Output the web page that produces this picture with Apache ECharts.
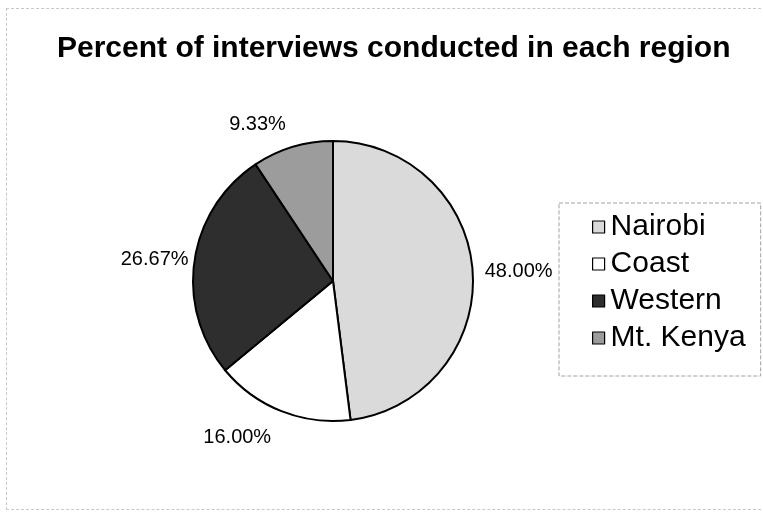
<!DOCTYPE html>
<html>
<head>
<meta charset="utf-8">
<script src="https://cdn.jsdelivr.net/npm/echarts@6/dist/echarts.min.js"></script>
<style>
html,body{margin:0;padding:0;background:#fff;}
#frame{position:absolute;left:6px;top:8px;width:760px;height:502px;border:1px dashed #c8c8c8;box-sizing:border-box;}
#chart{position:absolute;left:0;top:0;width:763px;height:516px;}
</style>
</head>
<body>
<div id="frame"></div>
<div id="chart"></div>
<script>
const titleText = 'Percent of interviews conducted in each region';
const regions = ['Nairobi', 'Coast', 'Western', 'Mt. Kenya'];
const percents = [48.00, 16.00, 26.67, 9.33];

const fills = ['#dadada', '#ffffff', '#2e2e2e', '#9c9c9c'];
const labelGaps = [12, 28, 6, 23];

const chart = echarts.init(document.getElementById('chart'), null, {renderer: 'canvas'});
const FONT = '"Liberation Sans", Arial, sans-serif';

const pieData = regions.map((name, i) => ({
  name: name,
  value: percents[i],
  itemStyle: {color: fills[i]},
  labelLine: {show: false, length: labelGaps[i], length2: 0}
}));

chart.setOption({
  animation: false,
  backgroundColor: 'transparent',
  title: {
    text: titleText,
    left: 52,
    top: 29,
    textStyle: {fontFamily: FONT, fontSize: 30, fontWeight: 'bold', color: '#000'}
  },
  legend: {
    orient: 'vertical',
    left: 559,
    top: 203,
    padding: [9, 15, 23, 33],
    borderColor: '#a0a0a0',
    borderWidth: 1,
    borderType: 'dashed',
    itemWidth: 12,
    itemHeight: 12,
    itemGap: 7,
    icon: 'rect',
    itemStyle: {borderColor: '#000', borderWidth: 1.2},
    textStyle: {fontFamily: FONT, fontSize: 30, color: '#000', lineHeight: 30, padding: [0, 0, 0, 1]},
    data: regions
  },
  series: [{
    type: 'pie',
    center: [333, 281],
    radius: 140,
    startAngle: 90,
    clockwise: true,
    avoidLabelOverlap: false,
    itemStyle: {borderColor: '#000', borderWidth: 2},
    label: {
      show: true,
      position: 'outside',
      distanceToLabelLine: 0,
      fontFamily: FONT,
      fontSize: 20,
      color: '#000',
      formatter: p => p.value.toFixed(2) + '%'
    },
    labelLine: {show: false},
    emphasis: {disabled: true},
    data: pieData
  }]
});
</script>
</body>
</html>
